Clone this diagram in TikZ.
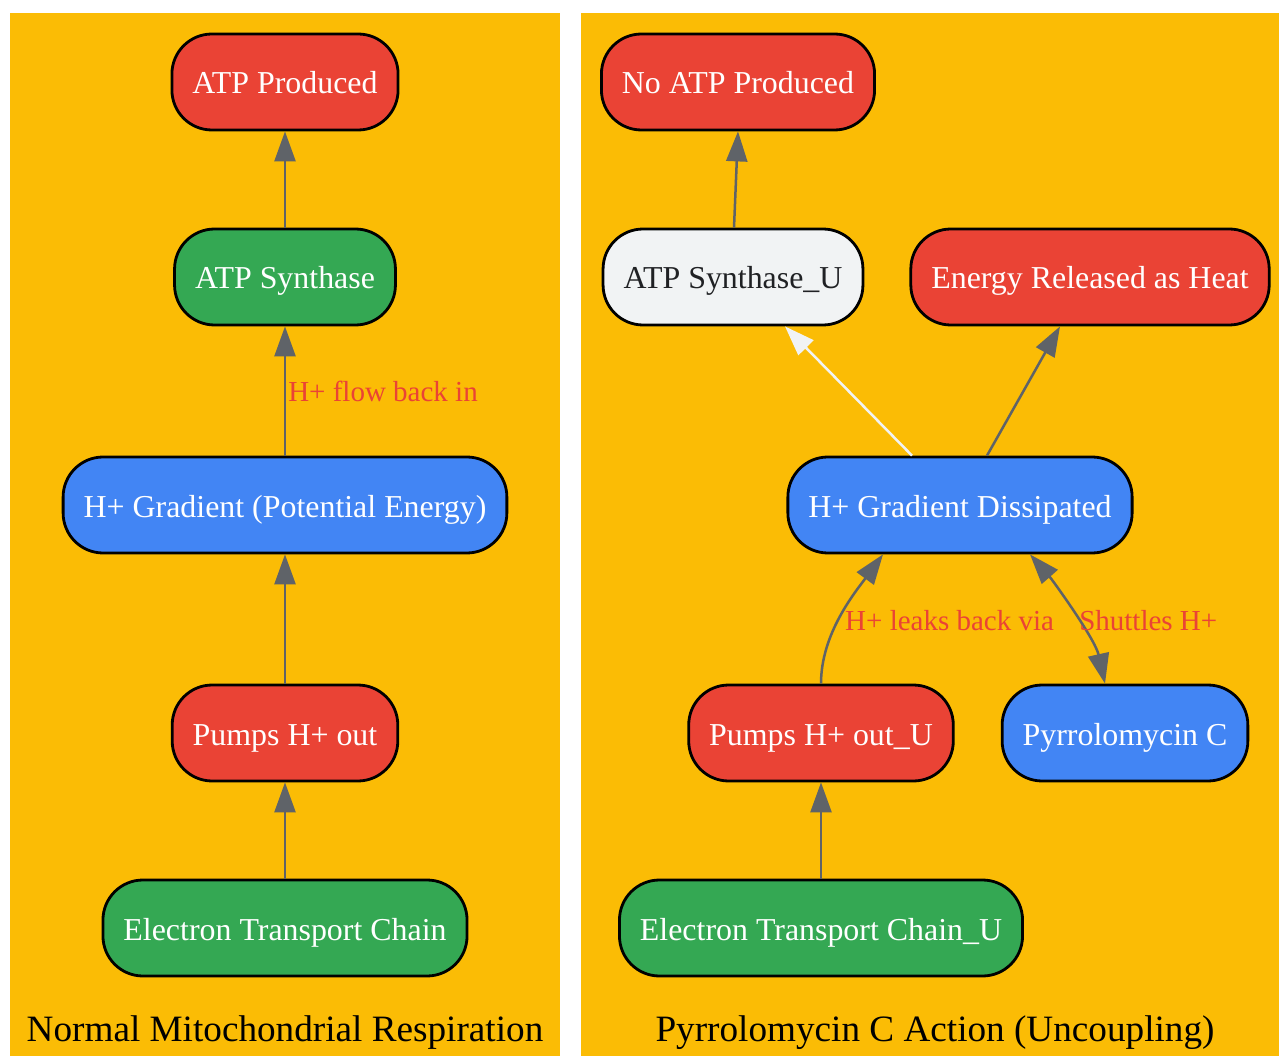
\documentclass[tikz,border=0pt]{standalone}
\usepackage{fontspec}
\setmainfont{Liberation Serif}
\usepackage{xcolor}
\usepackage{tikz}
\usetikzlibrary{arrows.meta}

\definecolor{gred}{HTML}{EA4335}
\definecolor{ggreen}{HTML}{34A853}
\definecolor{gblue}{HTML}{4285F4}
\definecolor{gyellow}{HTML}{FBBC05}
\definecolor{gwhite}{HTML}{F1F3F4}
\definecolor{gdark}{HTML}{202124}
\definecolor{ggray}{HTML}{5F6368}

\tikzset{
    box/.style={draw=black, line width=2.8pt, rounded corners=40pt, minimum height=96pt,
        inner xsep=20.5pt, text=white, font=\fontsize{31.9}{36}\selectfont,
        text height=26pt, text depth=2pt},
    flow/.style={draw=ggray, line width=2.5pt, -{Triangle[length=30pt, width=21pt]}},
    lbl/.style={text=gred, font=\fontsize{29}{34}\selectfont, inner sep=4pt},
    title/.style={text=black, font=\fontsize{37.2}{44}\selectfont}
}

\begin{document}
\begin{tikzpicture}[x=1pt, y=-1pt]
    \useasboundingbox (0,0) rectangle (1279,1056);
    \fill[gyellow] (10,13) rectangle (560,1056);
    \fill[gyellow] (581,13) rectangle (1279,1056);

    % normal respiration
    \node [box, fill=gred] (atp) at (285, 82) {ATP Produced};
    \node [box, fill=ggreen] (synth) at (285, 277) {ATP Synthase};
    \node [box, fill=gblue] (grad) at (285, 505) {H+ Gradient (Potential Energy)};
    \node [box, fill=gred] (pumps) at (285, 733) {Pumps H+ out};
    \node [box, fill=ggreen] (etc) at (285, 928) {Electron Transport Chain};
    \node [title] (titleN) at (285, 1033) {Normal Mitochondrial Respiration};

    \draw[flow] (etc) to (pumps);
    \draw[flow] (pumps) to (grad);
    \draw[flow] (grad) to node[lbl, midway, right=-2pt] {H+ flow back in} (synth);
    \draw[flow] (synth) to (atp);

    % uncoupling
    \node [box, fill=gred] (noatp) at (738, 82) {No ATP Produced};
    \node [box, fill=gwhite, text=gdark] (synthU) at (733, 277) {ATP Synthase\_U};
    \node [box, fill=gred] (heat) at (1090, 277) {Energy Released as Heat};
    \node [box, fill=gblue] (gradD) at (960, 505) {H+ Gradient Dissipated};
    \node [box, fill=gred] (pumpsU) at (821, 733) {Pumps H+ out\_U};
    \node [box, fill=gblue] (pyrro) at (1125, 733) {Pyrrolomycin C};
    \node [box, fill=ggreen] (etcU) at (821, 928) {Electron Transport Chain\_U};
    \node [title] (titleU) at (935, 1033) {Pyrrolomycin C Action (Uncoupling)};

    \draw[flow] (etcU) to (pumpsU);
    \draw[flow] (pumpsU.north) .. controls +(0,-50) and +(-28,38) ..
        node[lbl, pos=0.52, right=-3pt, yshift=-9pt] {H+ leaks back via} ([xshift=-77pt]gradD.south);
    \draw[flow, {Triangle[length=30pt, width=21pt]}-{Triangle[length=30pt, width=21pt]}]
        ([xshift=70pt]gradD.south) .. controls +(22,25) and +(-10,-45) ..
        node[lbl, pos=0.5, right=2pt, yshift=-9pt] {Shuttles H+} ([xshift=-20pt]pyrro.north);
    \draw[flow, draw=gwhite, -{Triangle[length=30pt, width=21pt, fill=gwhite]}]
        ([xshift=-48pt]gradD.north) to ([xshift=52pt]synthU.south);
    \draw[flow] ([xshift=27pt]gradD.north) to ([xshift=-30pt]heat.south);
    \draw[flow] ([xshift=1pt]synthU.north) to (noatp.south);
\end{tikzpicture}
\end{document}
